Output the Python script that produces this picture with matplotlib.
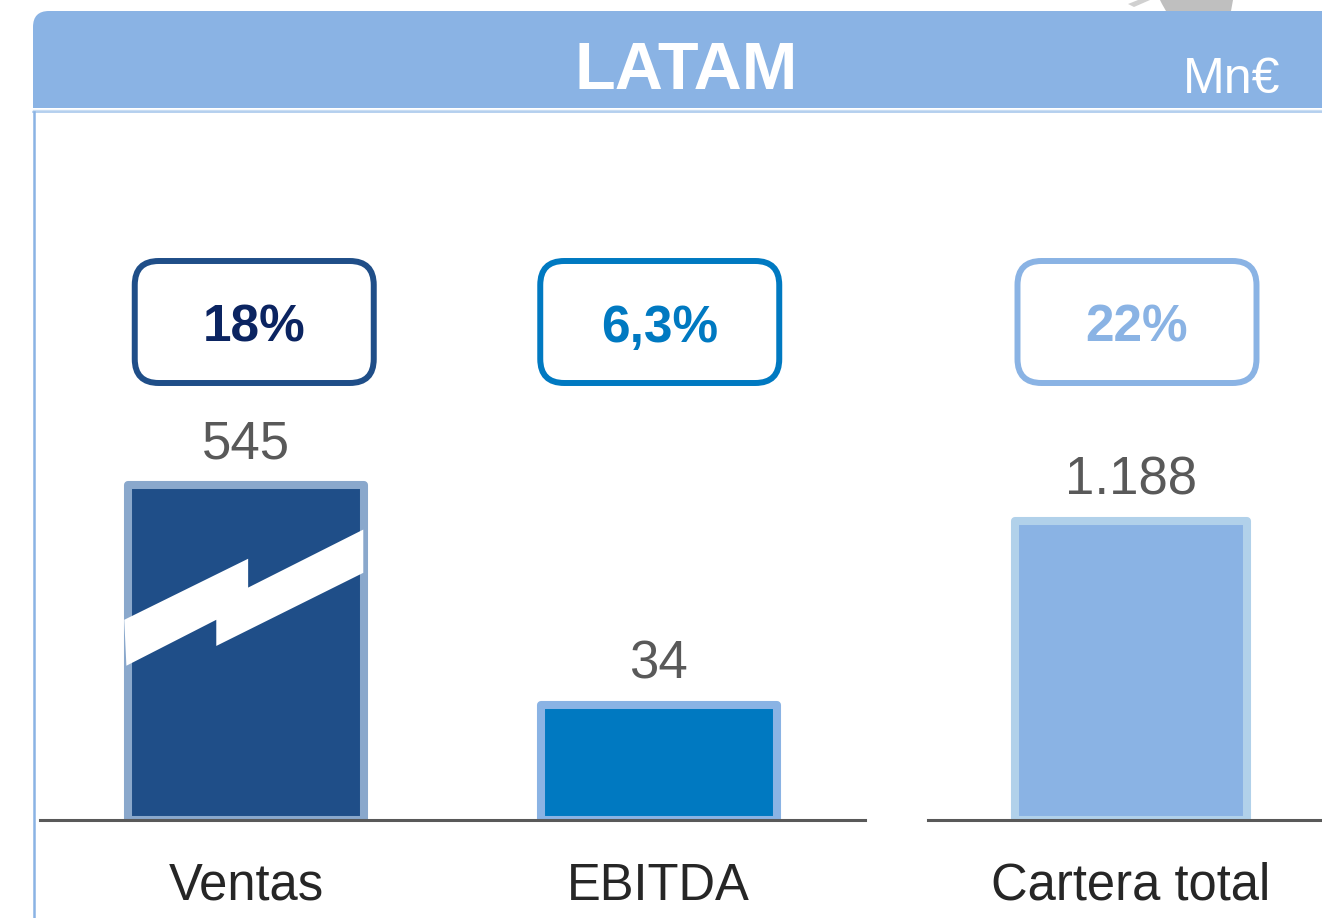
import numpy as np
import matplotlib.pyplot as plt
from matplotlib.patches import FancyBboxPatch, Polygon, Rectangle

plt.rcParams['font.family'] = ['Liberation Sans', 'DejaVu Sans']

# ---- data ----
title        = "LATAM"
unit         = "Mn€"
categories   = ["Ventas", "EBITDA", "Cartera total"]
values       = [545, 34, 1188]
valueLabels  = ["545", "34", "1.188"]
growthLabels = ["18%", "6,3%", "22%"]
ventasBreak  = 99        # Ventas bar is drawn broken, cut at this height

# colours
headerColor = '#8AB3E4'
faceColors  = ['#1F4E88', '#0079C1', '#8AB3E4']
edgeColors  = ['#8AA8CC', '#8AB3E4', '#B1D1EA']
boxColors   = ['#1F4E88', '#0079C1', '#8AB3E4']
pctColors   = ['#0B2461', '#0079C1', '#8AB3E4']
valueColor  = '#595959'
catColor    = '#262626'

boxShift = [8, 1, 6]     # growth boxes sit a little right of the bars (px)

W, H = 1322, 918
fig = plt.figure(figsize=(W / 100, H / 100), dpi=100)


def pxAxes(x0, y0, x1, y1):
    """axes placed with pixel coords (y downwards)"""
    return fig.add_axes([x0 / W, 1 - y1 / H, (x1 - x0) / W, (y1 - y0) / H])


# background / header
bg = pxAxes(0, 0, W, H)
bg.set_xlim(0, W)
bg.set_ylim(H, 0)
bg.axis('off')

# bit of grey picture peeking above the header
bg.add_patch(Polygon([(1160, 0), (1233, 0), (1231, 11), (1166, 11), (1162, 4)],
                     fc='#BFBFBF', ec='none'))
bg.add_patch(Polygon([(1128, 4), (1138, 0), (1150, 0), (1134, 7)],
                     fc='#D0D0D0', ec='none'))
bg.add_patch(FancyBboxPatch((33, 11), 1400, 140, boxstyle="round,pad=0,rounding_size=16",
                            fc=headerColor, ec='none'))
bg.add_patch(Rectangle((0, 108), W, H, fc='white', ec='none'))
bg.plot([33, W], [109.5, 109.5], color='#C9DDF3', lw=1)
bg.plot([33, W], [112, 112], color='#A9C8EC', lw=1.2)
bg.plot([33.5, 33.5], [112, H], color='#8AB3E4', lw=1.8)

bg.text(686, 89, title, ha='center', va='baseline', fontsize=48,
        fontweight='bold', color='white')
bg.text(1280, 93, unit, ha='right', va='baseline', fontsize=36, color='white')

# bar panels: left one for Ventas / EBITDA, right one for Cartera
axL = pxAxes(40, 112, 865, 820)
axR = pxAxes(928, 112, 1334, 820)
axL.set_xlim(-0.5, 1.5)
axR.set_xlim(-0.5, 0.5)
axL.set_ylim(0, 209)
axR.set_ylim(0, 2813)

barWidth = 0.572
shown = [min(values[0], ventasBreak), values[1], values[2]]
panels = [(axL, 0), (axL, 1), (axR, 0)]

for i, (ax, x) in enumerate(panels):
    ax.bar(x, shown[i], width=barWidth, color=faceColors[i], edgecolor=edgeColors[i],
           linewidth=5.8, joinstyle='round', zorder=2)
    ax.annotate(valueLabels[i], (x, shown[i]), xytext=(0, 19), textcoords='offset points',
                ha='center', va='baseline', fontsize=38, color=valueColor)
    ax.annotate(categories[i], (x, 0), xytext=(0, -57.6), textcoords='offset points',
                ha='center', va='baseline', fontsize=36.5, color=catColor)

    # growth box above every bar
    cx = bg.transData.inverted().transform(ax.transData.transform((x, 0)))[0] + boxShift[i]
    bg.add_patch(FancyBboxPatch((cx - 119.5, 261), 239, 122,
                                boxstyle="round,pad=0,rounding_size=24",
                                fc='white', ec=boxColors[i], lw=4.3, zorder=3))
    bg.text(cx, 342, growthLabels[i], ha='center', va='baseline', fontsize=37,
            fontweight='bold', color=pctColors[i], zorder=4)

# break mark on the Ventas bar (u: across bar width, v: share of drawn height)
breakU = [-0.517, 0.008, 0.008, 0.496, 0.496, -0.127, -0.127, -0.508]
breakV = [0.597, 0.779, 0.693, 0.866, 0.737, 0.519, 0.597, 0.460]
pts = [(0 + u * barWidth, v * shown[0]) for u, v in zip(breakU, breakV)]
axL.add_patch(Polygon(pts, fc='white', ec='none', zorder=3))

for ax in (axL, axR):
    ax.axhline(0, color='#595959', lw=2.2, clip_on=False, zorder=5)
    ax.axis('off')

fig.savefig('out.png', dpi=100)
